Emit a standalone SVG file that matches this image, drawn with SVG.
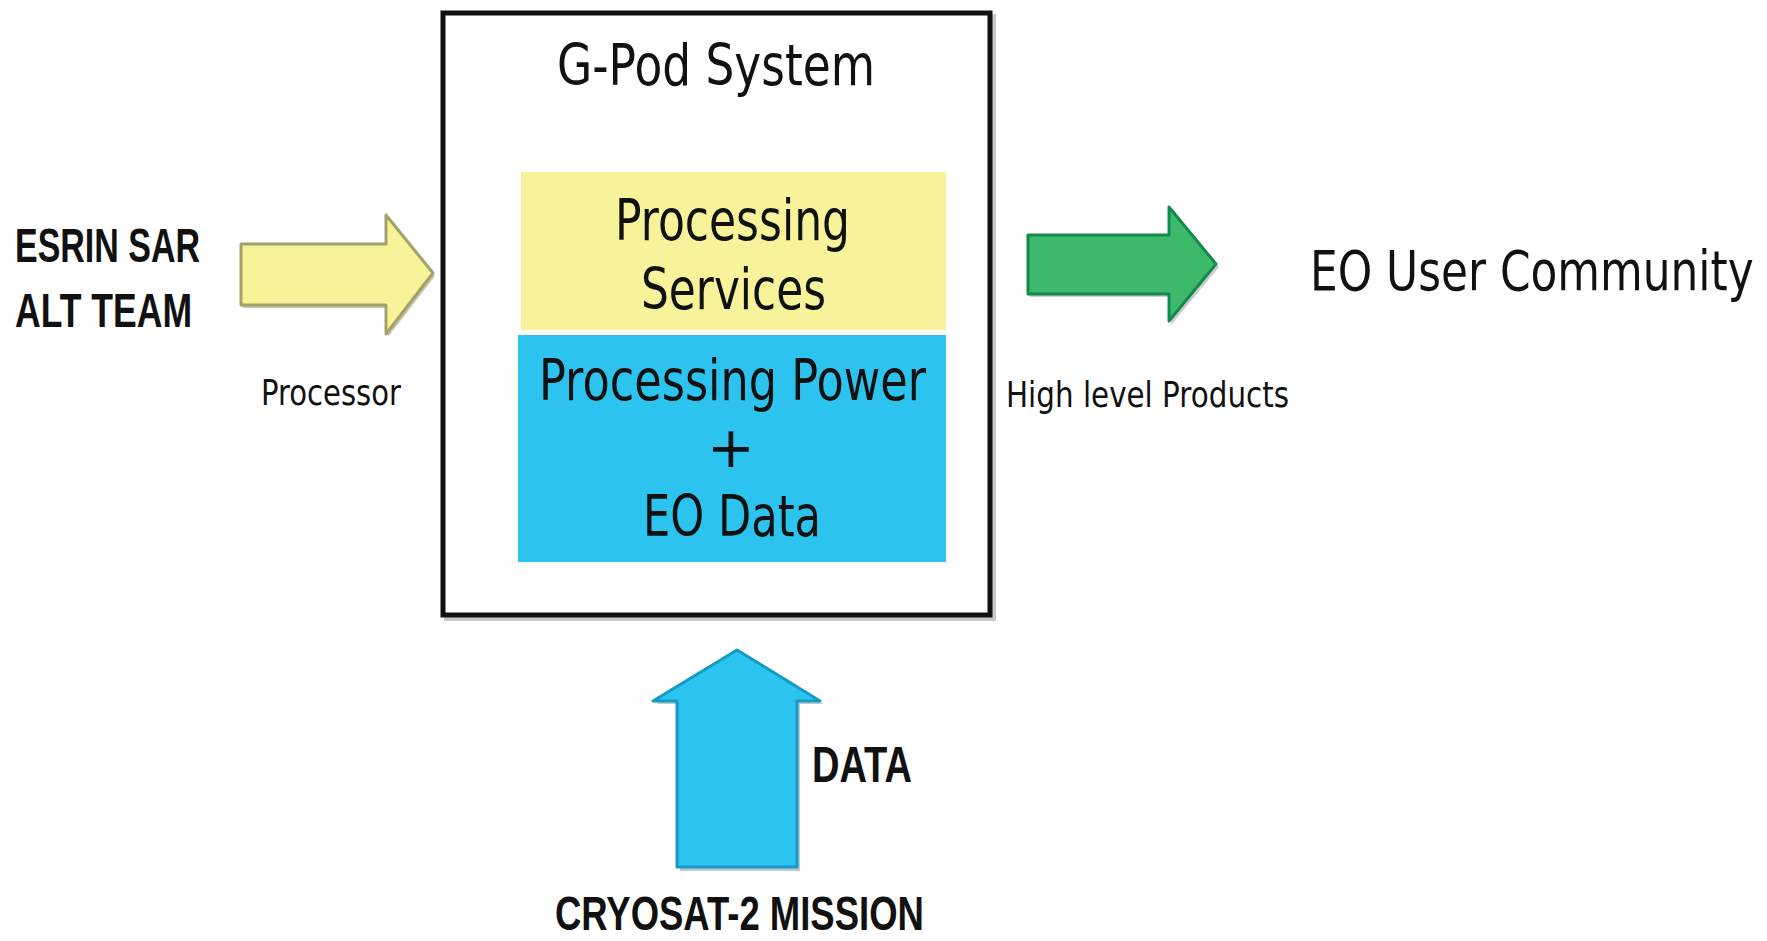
<svg xmlns="http://www.w3.org/2000/svg" width="1767" height="941" viewBox="0 0 1767 941">
<style>
.reg{font-family:"DejaVu Sans",Verdana,sans-serif;fill:#111}
.bold{font-family:"Liberation Sans",Arial,sans-serif;font-weight:bold;fill:#111}
.shadow{fill:none;stroke:#c8c8c8;stroke-width:4}
</style>
<rect width="1767" height="941" fill="#ffffff"/>
<g id="gpod-system">
<rect x="446" y="16" width="548" height="603" class="shadow"/>
<rect x="443" y="13" width="547" height="602" fill="#ffffff" stroke="#111" stroke-width="5"/>
<text class="reg" x="557" y="85" font-size="57" textLength="318" lengthAdjust="spacingAndGlyphs">G-Pod System</text>
</g>
<g id="processing-services">
<rect x="521" y="172" width="425" height="158" fill="#f7f39b"/>
<text class="reg" x="615" y="240" font-size="57" textLength="235" lengthAdjust="spacingAndGlyphs">Processing</text>
<text class="reg" x="641" y="309" font-size="57" textLength="185" lengthAdjust="spacingAndGlyphs">Services</text>
</g>
<g id="processing-power">
<rect x="518" y="335" width="428" height="227" fill="#2dc3ef"/>
<text class="reg" x="539" y="400" font-size="57" textLength="387" lengthAdjust="spacingAndGlyphs">Processing Power</text>
<text class="reg" x="731" y="467" font-size="57" text-anchor="middle">+</text>
<text class="reg" x="643" y="536" font-size="57" textLength="178" lengthAdjust="spacingAndGlyphs">EO Data</text>
</g>
<g id="esrin-team">
<text class="bold" x="15" y="262" font-size="49" textLength="185" lengthAdjust="spacingAndGlyphs">ESRIN SAR</text>
<text class="bold" x="15" y="327" font-size="49" textLength="177" lengthAdjust="spacingAndGlyphs">ALT TEAM</text>
</g>
<g id="eo-user-community">
<text class="reg" transform="translate(1310,290) scale(0.797,1)" x="0" y="0" font-size="55">EO User Community</text>
</g>
<g id="cryosat-mission">
<text class="bold" transform="translate(555,930) scale(0.76,1)" x="0" y="0" font-size="48">CRYOSAT-2 MISSION</text>
</g>
<g id="connectors">
<g id="processor-arrow">
<polygon points="243,247 388,247 388,217 435,276 388,337 388,308 243,308" fill="#c8c8b0" stroke="none"/>
<polygon points="241,244 386,244 386,215 433,273 386,334 386,305 241,305" fill="#f6f297" stroke="#a3a06e" stroke-width="3" stroke-linejoin="round"/>
<text class="reg" x="261" y="405" font-size="36" fill="#222" textLength="140" lengthAdjust="spacingAndGlyphs">Processor</text>
</g>
<g id="products-arrow">
<polygon points="1030,238 1171,238 1171,210 1219,267 1171,325 1171,297 1030,297" fill="#cccccc" stroke="none"/>
<polygon points="1028,235 1169,235 1169,207 1216,264 1169,321 1169,294 1028,294" fill="#3cb96b" stroke="#14894c" stroke-width="3" stroke-linejoin="round"/>
<text class="reg" x="1006" y="407" font-size="36" fill="#222" textLength="283" lengthAdjust="spacingAndGlyphs">High level Products</text>
</g>
<g id="data-arrow">
<polygon points="680,871 680,704 656,704 739,653 823,704 800,704 800,871" fill="#c0c8cc" stroke="none"/>
<polygon points="677,867 677,701 653,701 737,650 820,701 797,701 797,867" fill="#2dc3ef" stroke="#139bc6" stroke-width="3" stroke-linejoin="round"/>
<text class="bold" x="812" y="782" font-size="50" textLength="100" lengthAdjust="spacingAndGlyphs">DATA</text>
</g>
</g>
</svg>
